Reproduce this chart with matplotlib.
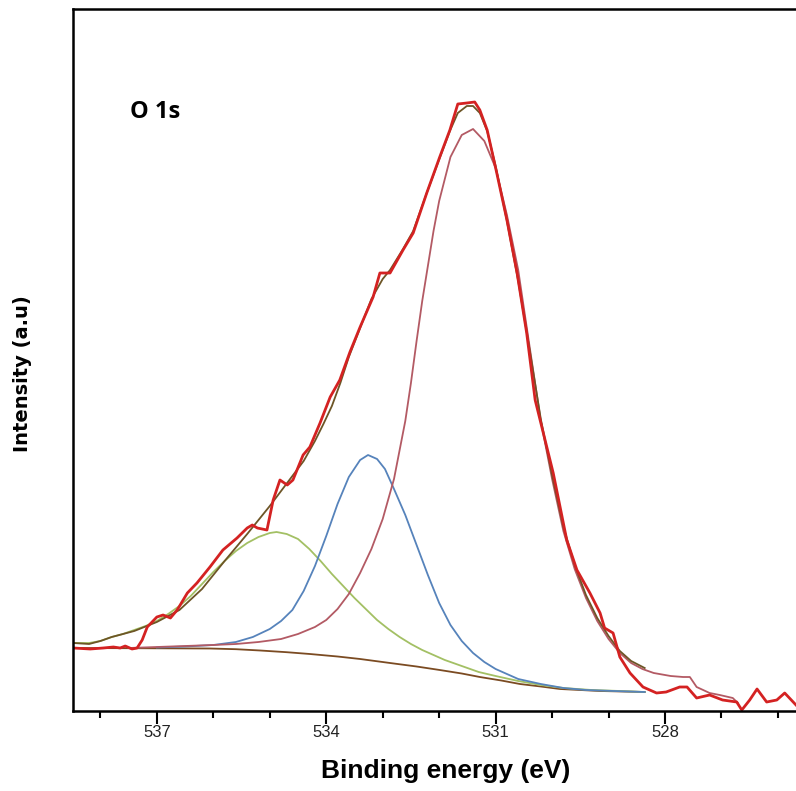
import matplotlib
matplotlib.use("Agg")
import matplotlib.pyplot as plt
from matplotlib.ticker import MultipleLocator, FixedLocator

# O 1s XPS spectrum (intensity in a.u.)
data_be = [538.48, 538.18, 537.95, 537.77, 537.65, 537.56, 537.44, 537.35, 537.26, 537.17,
           537.00, 536.89, 536.76, 536.64, 536.46, 536.29, 536.06, 535.83, 535.58, 535.40,
           535.31, 535.22, 535.05, 534.94, 534.82, 534.69, 534.59, 534.41, 534.29, 534.11,
           533.93, 533.76, 533.58, 533.40, 533.17, 533.05, 532.87, 532.64, 532.46, 532.22,
           531.99, 531.81, 531.67, 531.51, 531.37, 531.28, 531.15, 530.98, 530.80, 530.62,
           530.45, 530.30, 529.98, 529.74, 529.56, 529.33, 529.15, 529.07, 528.92, 528.80,
           528.62, 528.39, 528.15, 527.98, 527.74, 527.61, 527.44, 527.21, 526.98, 526.73,
           526.64, 526.50, 526.37, 526.20, 526.02, 525.88, 525.68]
data_int = [63, 62, 63, 64, 63, 65, 62, 63, 71, 84,
            94, 96, 93, 101, 118, 128, 144, 161, 173, 183,
            186, 183, 181, 211, 231, 226, 231, 256, 264, 288,
            314, 331, 359, 384, 414, 438, 438, 461, 478, 518,
            554, 581, 607, 608, 609, 601, 581, 538, 491, 438,
            378, 311, 238, 171, 141, 118, 98, 83, 78, 54,
            38, 24, 18, 19, 24, 24, 13, 16, 11, 9,
            1, 11, 22, 9, 11, 18, 6]

env_be = [538.48, 538.2, 538.0, 537.8, 537.4, 537.0, 536.6, 536.2, 535.8, 535.4,
          535.0, 534.6, 534.4, 534.2, 534.05, 533.9, 533.75, 533.6, 533.4, 533.2,
          533.0, 532.87, 532.64, 532.46, 532.22, 531.99, 531.81, 531.67, 531.51, 531.4,
          531.28, 531.15, 531.0, 530.8, 530.6, 530.4, 530.2, 530.0, 529.8, 529.6,
          529.4, 529.2, 529.0, 528.8, 528.6, 528.36]
env_int = [68, 67, 70, 74, 80, 89, 101, 122, 150, 177,
           205, 235, 250, 270, 287, 305, 328, 354, 383, 412,
           432, 441, 462, 480, 518, 553, 580, 598, 605, 605,
           598, 580, 545, 490, 430, 362, 292, 236, 184, 146,
           116, 93, 75, 60, 50, 43]

bg_be = [538.48, 536.06, 535.6, 535.17, 534.7, 534.29, 533.8, 533.40, 532.87, 532.4,
         531.99, 531.6, 531.28, 530.9, 530.57, 530.2, 529.86, 529.5, 529.15, 528.36]
bg_int = [63, 62.5, 61.8, 60.5, 58.8, 57, 54.5, 52, 48, 44.5,
          41, 37.5, 34, 30.5, 27, 24.5, 22, 21, 20, 19]

green_be = [538.45, 538.2, 538.0, 537.8, 537.6, 537.4, 537.2, 537.0, 536.8, 536.6,
            536.4, 536.2, 536.0, 535.8, 535.6, 535.4, 535.2, 535.0, 534.88, 534.7,
            534.5, 534.3, 534.1, 533.9, 533.7, 533.5, 533.3, 533.1, 532.9, 532.7,
            532.5, 532.3, 532.1, 531.9, 531.6, 531.3, 531.0, 530.6, 530.2, 529.8,
            529.3, 528.8, 528.36]
green_int = [68, 68, 70, 74, 77, 81, 85, 90, 97, 105,
             115, 127, 139, 150, 160, 168, 174, 178, 179, 177,
             172, 162, 150, 137, 125, 113, 102, 91, 82, 74,
             67, 61, 56, 51, 45, 39, 35, 30, 26, 23,
             21, 20, 19]

blue_be = [537.0, 536.5, 536.0, 535.6, 535.3, 535.0, 534.8, 534.6, 534.4, 534.2,
           534.0, 533.8, 533.6, 533.4, 533.26, 533.1, 532.96, 532.8, 532.6, 532.4,
           532.2, 532.0, 531.8, 531.6, 531.4, 531.2, 531.0, 530.6, 530.2, 529.8,
           529.4, 528.9, 528.36]
blue_int = [63.5, 64.5, 66, 69, 74, 82, 90, 101, 120, 145,
            175, 207, 234, 251, 256, 252, 242, 222, 196, 166,
            136, 108, 86, 70, 58, 49, 42, 32, 27, 23,
            21, 20, 19]

red_be = [537.5, 537.0, 536.5, 536.0, 535.6, 535.2, 534.8, 534.5, 534.2, 534.0,
          533.8, 533.6, 533.4, 533.2, 533.0, 532.8, 532.6, 532.5, 532.4, 532.3,
          532.2, 532.1, 532.0, 531.8, 531.6, 531.4, 531.2, 531.0, 530.8, 530.6,
          530.4, 530.2, 530.0, 529.8, 529.6, 529.4, 529.2, 529.0, 528.8, 528.6,
          528.4, 528.2, 527.9, 527.68, 527.56, 527.44, 527.21, 527.03, 526.80, 526.71]
red_int = [63, 64, 65, 66, 67, 69, 72, 77, 84, 91,
           102, 117, 138, 162, 192, 232, 290, 328, 370, 410,
           445, 480, 510, 554, 576, 582, 570, 543, 496, 441,
           365, 290, 232, 180, 142, 113, 90, 72, 58, 48,
           42, 38, 35, 34, 34, 24, 18, 16, 13, 8]

fig = plt.figure(figsize=(7.96, 7.91), dpi=100)
ax = fig.add_axes([73.3 / 796, 80 / 791, 1 - 73.3 / 796, 702 / 791])

ax.plot(bg_be, bg_int, color="#7b4b22", lw=1.3)
ax.plot(green_be, green_int, color="#a3c064", lw=1.3)
ax.plot(blue_be, blue_int, color="#5683bb", lw=1.3)
ax.plot(red_be, red_int, color="#b35a64", lw=1.3)
ax.plot(env_be, env_int, color="#6d5526", lw=1.3)
ax.plot(data_be, data_int, color="#d42222", lw=2.0)

ax.set_xlim(538.48, 525.68)
ax.set_ylim(0, 702)
ax.set_yticks([])
ax.xaxis.set_major_locator(FixedLocator([537, 534, 531, 528]))
ax.xaxis.set_minor_locator(MultipleLocator(1))
ax.tick_params(axis="x", which="major", length=9, width=1.5, pad=1,
               labelsize=12, labelcolor="#222222")
ax.tick_params(axis="x", which="minor", length=5, width=1.5)
for lab in ax.get_xticklabels():
    lab.set_family(["Liberation Sans", "DejaVu Sans"])

for side in ["left", "bottom", "top"]:
    ax.spines[side].set_linewidth(1.8)
ax.spines["right"].set_visible(False)

ax.text(0.0785, 0.853, "O 1s", transform=ax.transAxes, ha="left", va="center",
        fontsize=17, fontweight="bold", family=["Open Sans", "DejaVu Sans"])

fig.text(446 / 796, 1 - 771 / 791, "Binding energy (eV)", ha="center", va="center",
         fontsize=19, fontweight="bold", family=["Liberation Sans", "DejaVu Sans"])
fig.text(23 / 796, 1 - 374 / 791, "Intensity (a.u)", ha="center", va="center",
         rotation=90, fontsize=14, fontweight="bold", family=["DejaVu Sans"])

fig.savefig("out.png", dpi=100)
